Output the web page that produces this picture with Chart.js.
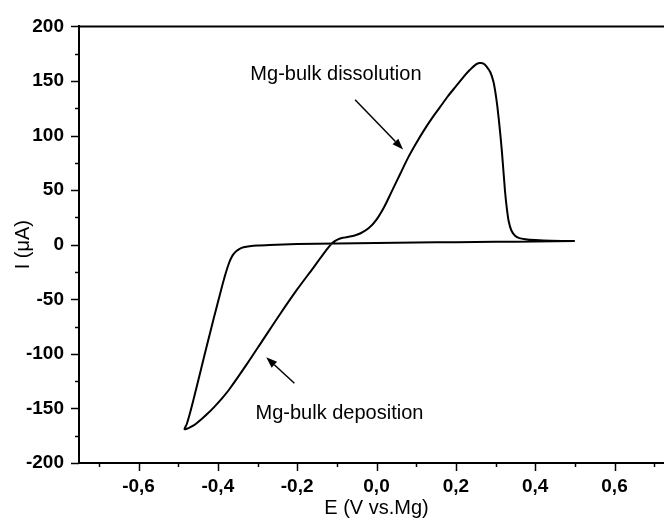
<!DOCTYPE html>
<html>
<head>
<meta charset="utf-8">
<script src="https://cdn.jsdelivr.net/npm/chart.js@4/dist/chart.umd.min.js"></script>
<style>
  html, body { margin: 0; padding: 0; background: #fff; overflow: hidden; width: 664px; height: 522px; }
  #wrap { position: absolute; left: 0; top: 0; width: 700px; height: 522px; }
</style>
</head>
<body>
<div id="wrap"><canvas id="c" width="700" height="522"></canvas></div>
<script>
// ---- data ----
const potential = [
  0.5, 0.4, 0.3, 0.2, 0.1, 0.0, -0.1, -0.2, -0.27, -0.3, -0.32, -0.335, -0.345, -0.353,
  -0.36, -0.366, -0.372, -0.38, -0.39, -0.4, -0.41, -0.426, -0.443, -0.458, -0.47, -0.478, -0.484,
  -0.477, -0.468, -0.455, -0.44, -0.425, -0.41, -0.39, -0.37, -0.326, -0.285,
  -0.242, -0.2, -0.158, -0.14, -0.128, -0.118, -0.108, -0.097, -0.085, -0.07, -0.055, -0.04, -0.02,
  0.0, 0.02, 0.04, 0.06, 0.08, 0.10, 0.12, 0.14, 0.16, 0.18, 0.20, 0.22, 0.235, 0.25, 0.26,
  0.27, 0.278, 0.287, 0.295, 0.302, 0.308, 0.316, 0.324, 0.329, 0.333, 0.34, 0.35, 0.36,
  0.375, 0.4, 0.44, 0.5
];
const current = [
  3.4, 3.0, 2.6, 2.3, 2.0, 1.6, 1.2, 0.6, -0.2, -0.7, -1.4, -2.4, -3.8, -5.8,
  -8.5, -12, -17, -26, -39, -53, -67, -90, -115, -137, -154, -164, -169,
  -168.5, -167, -164, -159.5, -154.5, -149, -141, -132, -109, -86.5,
  -63, -41, -20.5, -11.5, -5.6, -1, 2.6, 4.9, 6.3, 7.3, 8.5, 10.5, 15,
  23, 35, 50, 65, 80, 93, 105, 116, 126, 136, 145, 154, 160, 165, 166.5,
  166, 163, 158, 149, 134, 116, 86, 49, 32, 22, 13, 8, 6,
  5, 4.3, 3.7, 3.4
];
const xMajorTicks = [-0.6, -0.4, -0.2, 0.0, 0.2, 0.4, 0.6];
const xMinorTicks = [-0.7, -0.5, -0.3, -0.1, 0.1, 0.3, 0.5, 0.7];
const yMajorTicks = [-200, -150, -100, -50, 0, 50, 100, 150, 200];
const yMinorTicks = [-175, -125, -75, -25, 25, 75, 125, 175];
const annotations = [
  { text: 'Mg-bulk dissolution', x: -0.318, y: 155.7, arrowFrom: [-0.054, 132.8], arrowTo: [0.067, 87.3] },
  { text: 'Mg-bulk deposition', x: -0.305, y: -154.3, arrowFrom: [-0.207, -126.9], arrowTo: [-0.278, -103.2] }
];

const FONT = '"Liberation Sans", Arial, sans-serif';

const decorPlugin = {
  id: 'decor',
  afterDraw(chart) {
    const ctx = chart.ctx;
    const xs = chart.scales.x, ys = chart.scales.y;
    const area = chart.chartArea;
    ctx.save();
    ctx.strokeStyle = '#000';
    ctx.lineWidth = 2;
    // top frame line
    ctx.beginPath();
    ctx.moveTo(area.left - 1, area.top);
    ctx.lineTo(area.right, area.top);
    ctx.stroke();
    // tick marks
    ctx.lineWidth = 1.5;
    const drawX = (vals, len) => vals.forEach(v => {
      const p = Math.round(xs.getPixelForValue(v)) + 0.5;
      ctx.beginPath(); ctx.moveTo(p, area.bottom); ctx.lineTo(p, area.bottom + len); ctx.stroke();
    });
    const drawY = (vals, len) => vals.forEach(v => {
      const p = Math.round(ys.getPixelForValue(v)) + 0.5;
      ctx.beginPath(); ctx.moveTo(area.left, p); ctx.lineTo(area.left - len, p); ctx.stroke();
    });
    drawX(xMajorTicks, 8); drawX(xMinorTicks, 4);
    drawY(yMajorTicks, 8); drawY(yMinorTicks, 4);
    // annotations
    ctx.fillStyle = '#000';
    ctx.font = '20px ' + FONT;
    ctx.textAlign = 'left';
    ctx.textBaseline = 'middle';
    annotations.forEach(a => {
      ctx.fillText(a.text, xs.getPixelForValue(a.x), ys.getPixelForValue(a.y));
      const x1 = xs.getPixelForValue(a.arrowFrom[0]), y1 = ys.getPixelForValue(a.arrowFrom[1]);
      const x2 = xs.getPixelForValue(a.arrowTo[0]), y2 = ys.getPixelForValue(a.arrowTo[1]);
      const ang = Math.atan2(y2 - y1, x2 - x1);
      const hl = 11, hw = 4;
      const bx = x2 - hl * Math.cos(ang), by = y2 - hl * Math.sin(ang);
      ctx.lineWidth = 1.5;
      ctx.beginPath(); ctx.moveTo(x1, y1); ctx.lineTo(bx, by); ctx.stroke();
      ctx.beginPath();
      ctx.moveTo(x2, y2);
      ctx.lineTo(bx + hw * Math.sin(ang), by - hw * Math.cos(ang));
      ctx.lineTo(bx - hw * Math.sin(ang), by + hw * Math.cos(ang));
      ctx.closePath(); ctx.fill();
    });
    ctx.restore();
  }
};

new Chart(document.getElementById('c'), {
  type: 'line',
  data: {
    datasets: [{
      data: potential.map((x, i) => ({ x: x, y: current[i] })),
      borderColor: '#000',
      borderWidth: 2,
      pointRadius: 0,
      tension: 0.3,
      fill: false
    }]
  },
  options: {
    responsive: false,
    animation: false,
    events: [],
    layout: { padding: { left: 0, top: 24, right: 26, bottom: 0 } },
    plugins: { legend: { display: false }, tooltip: { enabled: false } },
    scales: {
      x: {
        type: 'linear',
        min: -0.75, max: 0.75,
        afterFit(s) { s.height = 59; },
        afterBuildTicks(s) { s.ticks = xMajorTicks.map(v => ({ value: v })); },
        grid: { display: false, drawTicks: false, tickLength: 0 },
        border: { display: true, color: '#000', width: 2 },
        ticks: {
          color: '#000', padding: 12, maxRotation: 0, autoSkip: false,
          font: { family: FONT, size: 19, weight: 'bold' },
          callback: v => v.toFixed(1).replace('.', ',')
        },
        title: {
          display: true, text: 'E (V vs.Mg)', color: '#000',
          font: { family: FONT, size: 20 }, padding: { top: 0, bottom: 2 }
        }
      },
      y: {
        type: 'linear',
        min: -200, max: 200,
        afterFit(s) { s.width = 79; },
        afterBuildTicks(s) { s.ticks = yMajorTicks.map(v => ({ value: v })); },
        grid: { display: false, drawTicks: false, tickLength: 0 },
        border: { display: true, color: '#000', width: 2 },
        ticks: {
          color: '#000', padding: 15, autoSkip: false,
          font: { family: FONT, size: 19, weight: 'bold' },
          callback: v => String(v)
        },
        title: {
          display: true, text: 'I (μA)', color: '#000',
          font: { family: FONT, size: 20 }, padding: { top: 11, bottom: 0 }
        }
      }
    }
  },
  plugins: [decorPlugin]
});
</script>
</body>
</html>
